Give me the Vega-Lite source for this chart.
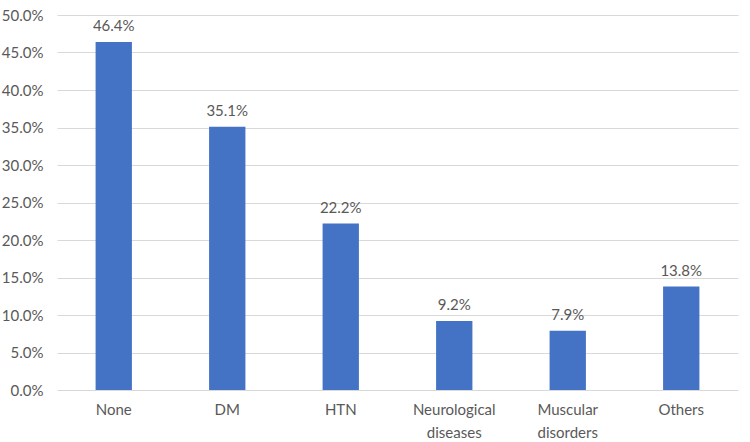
{
  "$schema": "https://vega.github.io/schema/vega-lite/v6.json",
  "autosize": "none",
  "width": 681,
  "height": 375,
  "padding": {"left": 57, "top": 15, "right": 12, "bottom": 52},
  "background": "white",
  "config": {"view": {"stroke": null}, "font": "Lato"},
  "data": {"values": [
    {"cat": "None", "v": 46.4},
    {"cat": "DM", "v": 35.1},
    {"cat": "HTN", "v": 22.2},
    {"cat": "Neurological diseases", "v": 9.2},
    {"cat": "Muscular disorders", "v": 7.9},
    {"cat": "Others", "v": 13.8}
  ]},
  "encoding": {
    "x": {"field": "cat", "type": "nominal", "sort": null,
      "scale": {"paddingInner": 0.68, "paddingOuter": 0.34},
      "axis": {"title": null, "labelAngle": 0, "domain": false, "ticks": false,
        "labelPadding": 12, "labelFontSize": 15, "labelColor": "#595959",
        "labelExpr": "split(datum.label, ' ')", "labelLineHeight": 23}},
    "y": {"field": "v", "type": "quantitative",
      "scale": {"domain": [0, 50]},
      "axis": {"title": null, "values": [0,5,10,15,20,25,30,35,40,45,50],
        "labelExpr": "format(datum.value, '.1f') + '%'",
        "domain": false, "ticks": false, "labelPadding": 14,
        "labelFontSize": 15, "labelColor": "#595959",
        "gridColor": "#d9d9d9", "gridWidth": 1}}
  },
  "layer": [
    {"mark": {"type": "bar", "color": "#4472C4"}},
    {"mark": {"type": "text", "dy": -16, "fontSize": 15, "color": "#595959",
      "text": {"expr": "format(datum.v, '.1f') + '%'"}}}
  ]
}
